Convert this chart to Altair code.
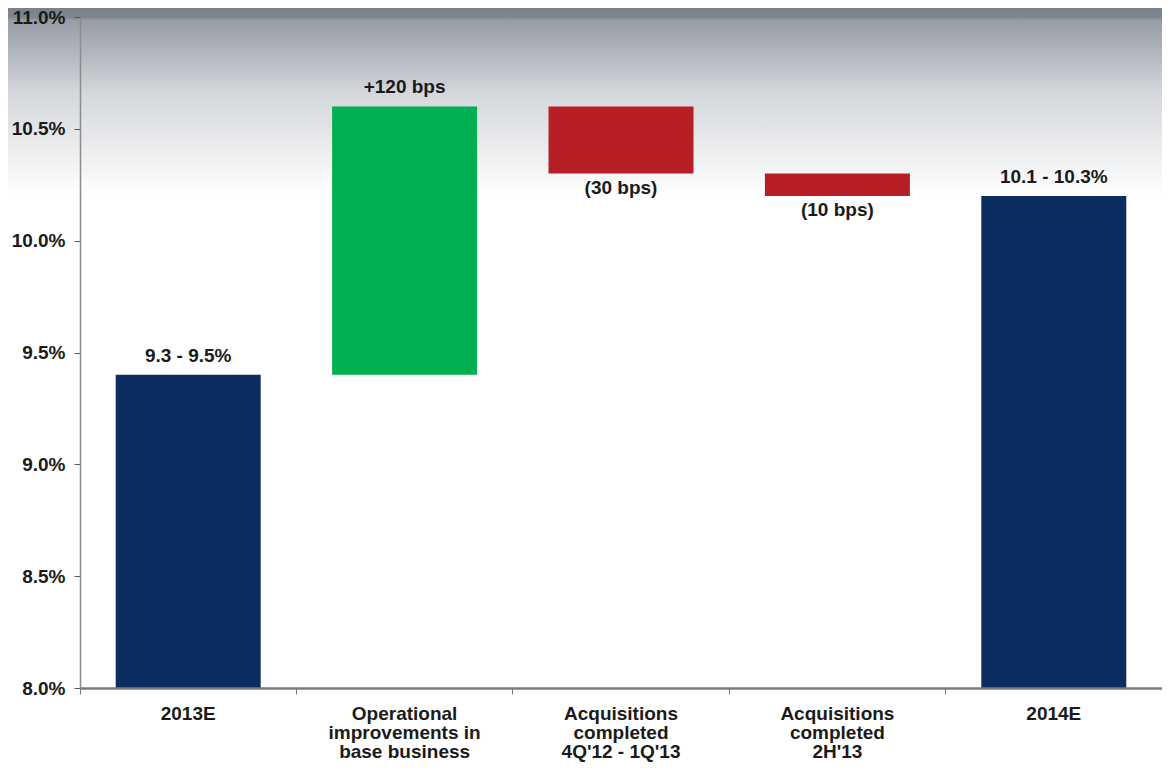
import altair as alt
import pandas as pd

categories = [
    "2013E",
    "Operational\nimprovements in\nbase business",
    "Acquisitions\ncompleted\n4Q'12 - 1Q'13",
    "Acquisitions\ncompleted\n2H'13",
    "2014E",
]
bar_start = [8.0, 9.4, 10.6, 10.3, 8.0]
bar_end = [9.4, 10.6, 10.3, 10.2, 10.2]
bar_kind = ["total", "increase", "decrease", "decrease", "total"]
bar_labels = ["9.3 - 9.5%", "+120 bps", "(30 bps)", "(10 bps)", "10.1 - 10.3%"]
y_ticks = [8.0, 8.5, 9.0, 9.5, 10.0, 10.5, 11.0]

NAVY = "#0c2d5f"
GREEN = "#00b050"
RED = "#b81f24"
FONT = "Liberation Sans"
FS = 19

df = pd.DataFrame({
    "category": categories,
    "start": bar_start,
    "end": bar_end,
    "kind": bar_kind,
    "label": bar_labels,
})
df["low"] = df[["start", "end"]].min(axis=1)
df["high"] = df[["start", "end"]].max(axis=1)

W, H = 1082, 671

x_enc = alt.X(
    "category:N",
    sort=categories,
    scale=alt.Scale(paddingInner=0, paddingOuter=0),
    axis=alt.Axis(
        title=None,
        labelAngle=0,
        labelExpr="split(datum.label, '\\n')",
        labelFont=FONT,
        labelFontWeight="bold",
        labelFontSize=FS,
        labelColor="#1a1a1a",
        labelLineHeight=19,
        labelPadding=10,
        labelBaseline="top",
        bandPosition=0,
        ticks=True,
        tickSize=6,
        tickColor="#777777",
        domainColor="#7a7a7a",
        domainWidth=2.5,
        zindex=1,
    ),
)
y_scale = alt.Scale(domain=[8.0, 11.0], nice=False, zero=False)
y_axis = alt.Axis(
    title=None,
    values=y_ticks,
    labelExpr="format(datum.value, '.1f') + '%'",
    labelFont=FONT,
    labelFontWeight="bold",
    labelFontSize=FS,
    labelColor="#1a1a1a",
    labelPadding=9,
    tickSize=6,
    tickColor="#555555",
    domainColor="#8c8c8c",
    domainWidth=1.5,
    grid=False,
    zindex=1,
)

gradient = alt.Gradient(
    gradient="linear",
    stops=[
        alt.GradientStop(color="#7b818b", offset=0.0),
        alt.GradientStop(color="#80868f", offset=0.05),
        alt.GradientStop(color="#979ca5", offset=0.065),
        alt.GradientStop(color="#d4d7db", offset=0.45),
        alt.GradientStop(color="#ffffff", offset=1.0),
    ],
    x1=0, y1=0, x2=0, y2=1,
)

bg = alt.Chart(alt.Data(values=[{"a": 1}])).mark_rect(fill=gradient, clip=False).encode(
    x=alt.value(-72), x2=alt.value(W), y=alt.value(-9), y2=alt.value(180)
)

bars = alt.Chart(df).mark_bar(width=alt.RelativeBandSize(0.67)).encode(
    x=x_enc,
    y=alt.Y("low:Q", scale=y_scale, axis=y_axis),
    y2="high:Q",
    color=alt.Color(
        "kind:N",
        scale=alt.Scale(domain=["total", "increase", "decrease"], range=[NAVY, GREEN, RED]),
        legend=None,
    ),
)

above = alt.Chart(df).transform_filter("datum.kind != 'decrease'").mark_text(
    font=FONT, fontWeight="bold", fontSize=FS, color="#1a1a1a", baseline="bottom", dy=-9
).encode(x=alt.X("category:N", sort=categories), y="high:Q", text="label:N")

below = alt.Chart(df).transform_filter("datum.kind == 'decrease'").mark_text(
    font=FONT, fontWeight="bold", fontSize=FS, color="#1a1a1a", baseline="top", dy=5
).encode(x=alt.X("category:N", sort=categories), y="low:Q", text="label:N")

chart = alt.layer(bg, bars, above, below).properties(
    width=W,
    height=H,
    autosize=alt.AutoSizeParams(type="none"),
    padding={"left": 72, "top": 9, "right": 0, "bottom": 80},
    background="white",
).configure_view(stroke=None)

chart.save("out.html", embed_options={"renderer": "svg", "actions": False})
